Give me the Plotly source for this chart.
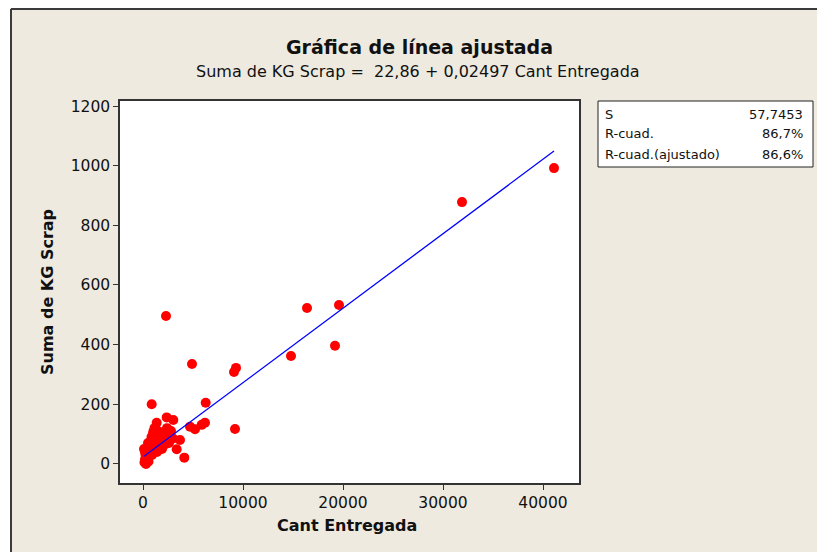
import plotly.graph_objects as go

# ---------------- data ----------------
cant_entregada = [
    41100, 31900, 19600, 19200, 16400, 14800, 9300, 9100, 9200, 6270, 6200, 5870,
    4900, 5200, 4700, 2300, 4130, 3700, 3030, 2370, 870, 3370, 2530, 2700,
    150, 200, 250, 300, 350, 400, 450, 500, 550, 600, 650, 700, 750, 800, 850,
    900, 950, 1000, 1050, 1100, 1150, 1200, 1250, 1300, 1370, 1400, 1450, 1500,
    1550, 1600, 1700, 1800, 1900, 2000, 2100, 2200, 2400, 2500, 2600, 2800, 3000,
    100, 300, 500, 200, 1030, 370,
]
kg_scrap = [
    992, 878, 533, 396, 523, 362, 322, 308, 117, 205, 138, 131,
    335, 116, 125, 496, 21, 80, 147, 156, 200, 49, 114, 92,
    5, 15, 30, 10, 45, 20, 55, 35, 8, 25, 60, 40, 75, 50, 90,
    30, 65, 100, 45, 80, 120, 55, 95, 70, 138, 40, 85, 110,
    60, 100, 75, 90, 50, 105, 80, 65, 120, 95, 70, 110, 85,
    50, 0, 70, 40, 108, 37,
]
intercept = 22.86
slope = 0.02497

title_text = "Gráfica de línea ajustada"
subtitle_text = "Suma de KG Scrap =  22,86 + 0,02497 Cant Entregada"
x_title = "Cant Entregada"
y_title = "Suma de KG Scrap"
stat_labels = ["S", "R-cuad.", "R-cuad.(ajustado)"]
stat_values = ["57,7453", "86,7%", "86,6%"]
x_ticks = [0, 10000, 20000, 30000, 40000]
y_ticks = [0, 200, 400, 600, 800, 1000, 1200]

# ---------------- layout helpers (pixel -> paper) ----------------
W, H = 817, 552
L, R, T, B = 120, 579, 101, 483
pw, ph = R - L, B - T

def px(x):
    return (x - L) / pw

def py(y):
    return (B - y) / ph

FONT = "DejaVu Sans"
BG = "#EEEAE0"

fit_x = [min(cant_entregada), max(cant_entregada)]
fit_y = [intercept + slope * v for v in fit_x]

fig = go.Figure()
fig.add_trace(go.Scatter(
    x=cant_entregada, y=kg_scrap, mode="markers",
    marker=dict(color="#FF0000", size=10, line=dict(width=0)),
    showlegend=False, hoverinfo="x+y",
))
fig.add_trace(go.Scatter(
    x=fit_x, y=fit_y, mode="lines",
    line=dict(color="#0000FF", width=1.3),
    showlegend=False,
))

axis_common = dict(
    showgrid=False, zeroline=False, showline=True, mirror=True,
    linecolor="#333333", linewidth=1.5,
    ticks="outside", ticklen=5, tickwidth=1, tickcolor="#333333",
    tickfont=dict(family=FONT, size=15.5, color="#111111"),
)
fig.update_xaxes(range=[-2300, 43600], tickvals=x_ticks,
                 ticktext=[str(v) for v in x_ticks], **axis_common)
fig.update_yaxes(range=[-64, 1217], tickvals=y_ticks,
                 ticktext=[str(v) for v in y_ticks], **axis_common)

shapes = [
    # white outer strips
    dict(type="rect", xref="paper", yref="paper", x0=px(-20), x1=px(10),
         y0=py(600), y1=py(-20), fillcolor="white", line=dict(width=0), layer="above"),
    dict(type="rect", xref="paper", yref="paper", x0=px(-20), x1=px(900),
         y0=py(8), y1=py(-20), fillcolor="white", line=dict(width=0), layer="above"),
    # frame lines
    dict(type="line", xref="paper", yref="paper", x0=px(11), x1=px(11),
         y0=py(600), y1=py(9), line=dict(color="#3a3a3a", width=2)),
    dict(type="line", xref="paper", yref="paper", x0=px(11), x1=px(900),
         y0=py(9), y1=py(9), line=dict(color="#3a3a3a", width=2)),
    # stats box
    dict(type="rect", xref="paper", yref="paper", x0=px(598), x1=px(813),
         y0=py(167), y1=py(101), fillcolor="white",
         line=dict(color="#222222", width=1)),
]

annotations = [
    dict(text="<b>" + title_text + "</b>", x=px(419), y=py(47), xref="paper", yref="paper",
         showarrow=False, xanchor="center", yanchor="middle",
         font=dict(family=FONT, size=19, color="#111111")),
    dict(text=subtitle_text, x=px(418), y=py(72), xref="paper", yref="paper",
         showarrow=False, xanchor="center", yanchor="middle",
         font=dict(family=FONT, size=16, color="#111111")),
    dict(text="<b>" + x_title + "</b>", x=px(347), y=py(525), xref="paper", yref="paper",
         showarrow=False, xanchor="center", yanchor="middle",
         font=dict(family=FONT, size=16, color="#111111")),
    dict(text="<b>" + y_title + "</b>", x=px(47), y=py(292), xref="paper", yref="paper",
         showarrow=False, xanchor="center", yanchor="middle", textangle=-90,
         font=dict(family=FONT, size=16, color="#111111")),
]
row_y = [114, 134, 154]
for lab, val, yy in zip(stat_labels, stat_values, row_y):
    annotations.append(dict(text=lab, x=px(603), y=py(yy), xref="paper", yref="paper",
                            showarrow=False, xanchor="left", yanchor="middle",
                            font=dict(family=FONT, size=13, color="#111111")))
    annotations.append(dict(text=val, x=px(805), y=py(yy), xref="paper", yref="paper",
                            showarrow=False, xanchor="right", yanchor="middle",
                            font=dict(family=FONT, size=13, color="#111111")))

fig.update_layout(
    width=W, height=H,
    margin=dict(l=L, r=W - R, t=T, b=H - B, pad=0),
    paper_bgcolor=BG, plot_bgcolor="white",
    shapes=shapes, annotations=annotations,
    showlegend=False,
)

fig.write_html(
    "out.html",
    config={"displayModeBar": False},
    post_script="document.body.style.margin='0';document.body.style.overflow='hidden';",
)
